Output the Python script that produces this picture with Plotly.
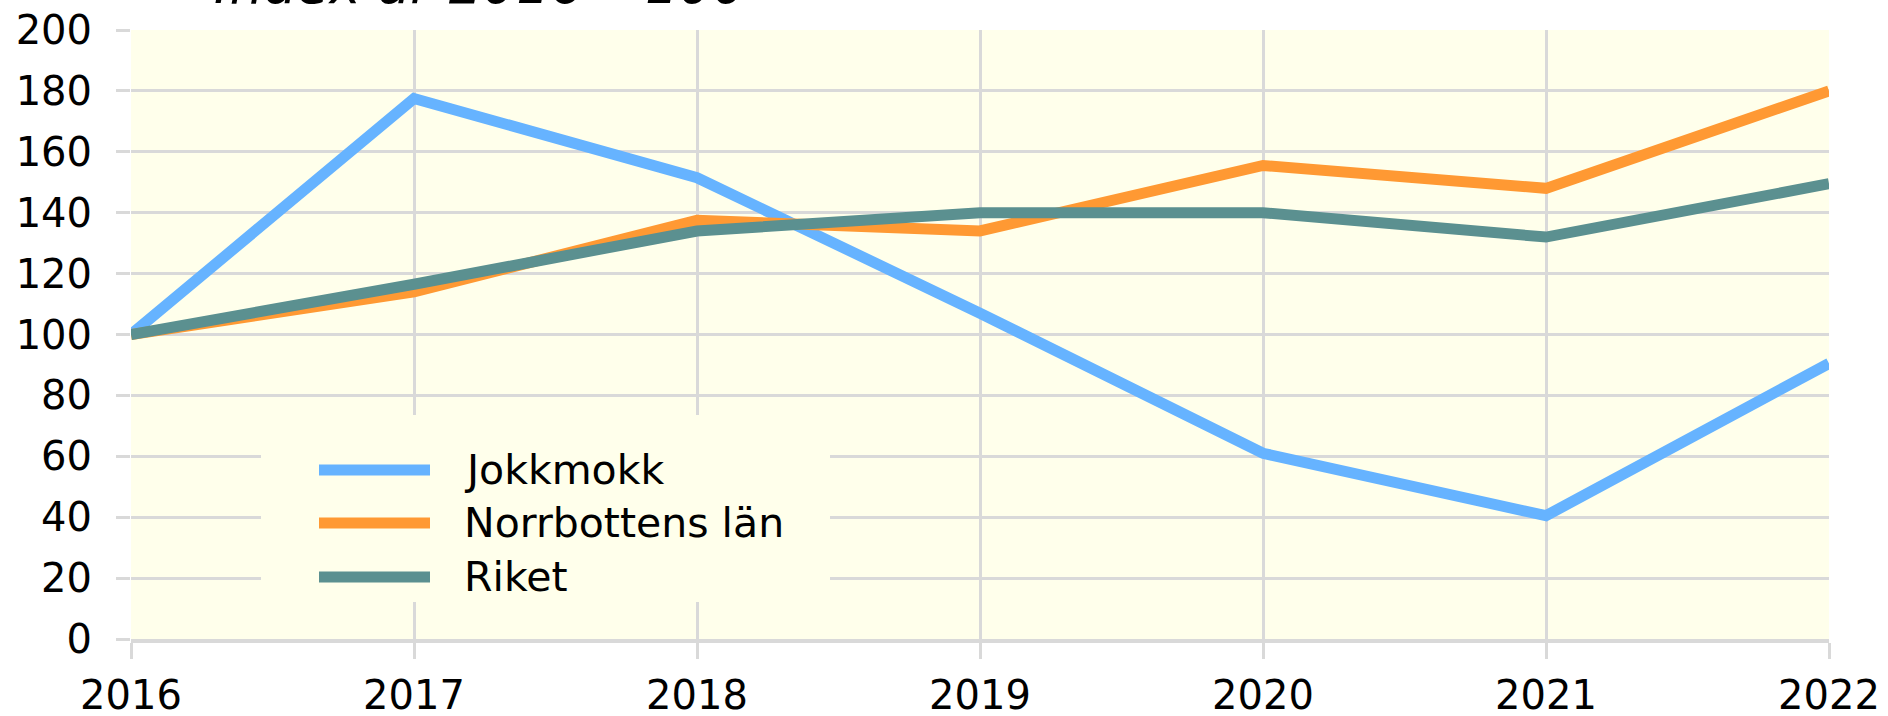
import plotly.graph_objects as go

years = [2016, 2017, 2018, 2019, 2020, 2021, 2022]
jokkmokk = [100, 177.5, 151.5, 107, 61, 40.5, 90.5]
norrbotten = [100, 114, 137.5, 134, 155.5, 148, 180]
riket = [100, 116.5, 134, 140, 140, 132, 149.5]

series_names = ["Jokkmokk", "Norrbottens län", "Riket"]
series_values = [jokkmokk, norrbotten, riket]
series_colors = ["#66B3FF", "#FF9933", "#5B9090"]

y_ticks = list(range(0, 201, 20))
title_text = "Index år 2016 =100"

W, H = 1888, 716
L, T = 131, 30
PR, PB = 1829, 639
R, B = W - PR, H - PB
PW, PH = PR - L, PB - T
FONT = "DejaVu Sans"
GRID = "#D9D9D9"
BG = "#FFFFEB"


def px(x):
    return (x - L) / PW


def py(y):
    return (PB - y) / PH


fig = go.Figure()
for name, vals, col in zip(series_names, series_values, series_colors):
    fig.add_trace(go.Scatter(x=years, y=vals, mode="lines", name=name,
                             line=dict(color=col, width=11), showlegend=False))

shapes = []
annotations = []
# legend box (covers gridlines)
shapes.append(dict(type="rect", xref="paper", yref="paper",
                   x0=px(261), x1=px(830), y0=py(602), y1=py(415),
                   fillcolor=BG, line=dict(width=0), layer="above"))
rows = [470, 523, 577]
for name, col, ry in zip(series_names, series_colors, rows):
    shapes.append(dict(type="line", xref="paper", yref="paper",
                       x0=px(319), x1=px(430), y0=py(ry), y1=py(ry),
                       line=dict(color=col, width=11), layer="above"))
    annotations.append(dict(text=name, xref="paper", yref="paper",
                            x=px(462), y=py(ry), xanchor="left", yanchor="middle",
                            showarrow=False, font=dict(family=FONT, size=41, color="black")))

annotations.append(dict(text="<i>" + title_text + "</i>", xref="paper", yref="paper",
                        x=px(212), y=py(17), xanchor="left", yanchor="bottom",
                        showarrow=False, font=dict(family=FONT, size=53, color="black")))

fig.update_layout(
    width=W, height=H,
    margin=dict(l=L, r=R, t=T, b=B, pad=0, autoexpand=False),
    paper_bgcolor="white", plot_bgcolor=BG,
    font=dict(family=FONT, size=40, color="black"),
    shapes=shapes, annotations=annotations,
    showlegend=False,
)
fig.update_xaxes(range=[2016, 2022], tickmode="array", tickvals=years,
                 ticktext=[str(y) for y in years], automargin=False,
                 ticklabeloverflow="allow",
                 showgrid=True, gridcolor=GRID, gridwidth=3,
                 ticks="outside", ticklen=16, tickcolor=GRID, tickwidth=3,
                 showline=True, linecolor=GRID, linewidth=4,
                 zeroline=False, ticklabelstandoff=2,
                 tickfont=dict(family=FONT, size=40, color="black"))
fig.update_yaxes(range=[0, 200], tickmode="array", tickvals=y_ticks, automargin=False,
                 ticklabeloverflow="allow",
                 showgrid=True, gridcolor=GRID, gridwidth=3,
                 ticks="outside", ticklen=14, tickcolor=GRID, tickwidth=3,
                 showline=False, zeroline=False, ticklabelstandoff=16,
                 tickfont=dict(family=FONT, size=40, color="black"))

fig.write_html("out.html", config={"displayModeBar": False},
               post_script="document.body.style.margin='0';document.body.style.overflow='hidden';")
